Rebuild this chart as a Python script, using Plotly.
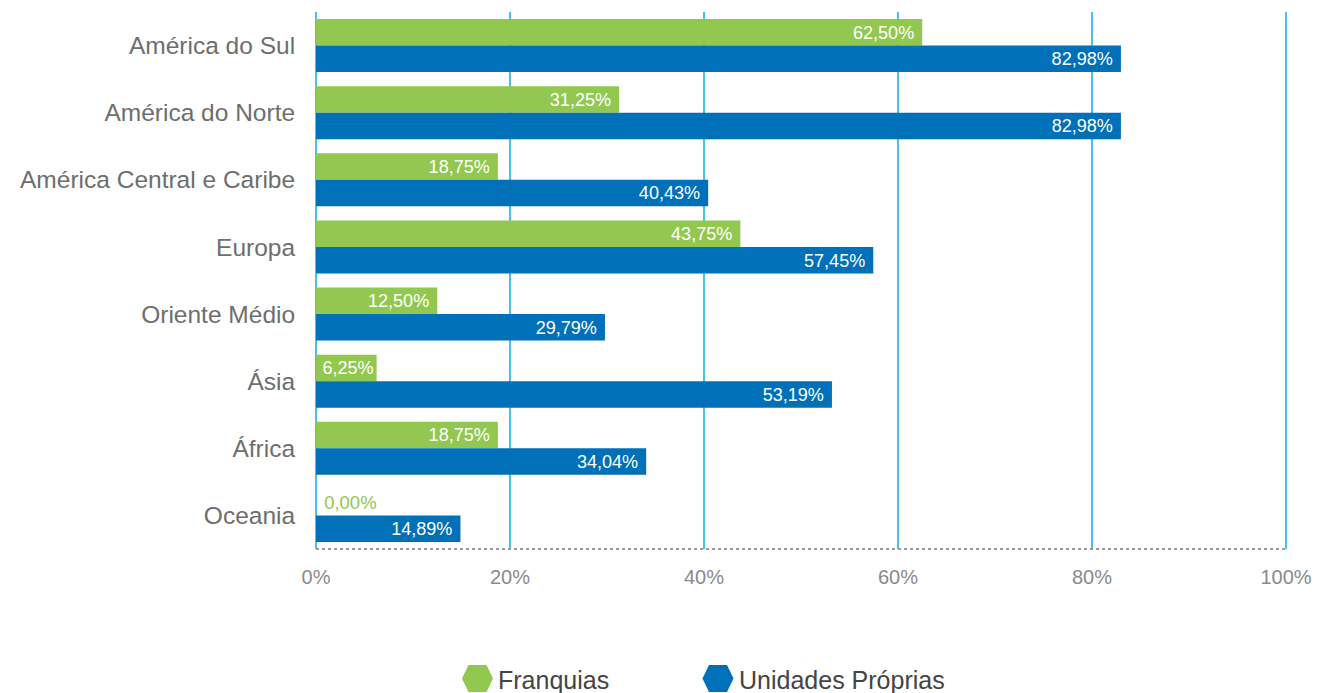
import plotly.graph_objects as go

# Regions (top to bottom) and share of each business model present there (%)
regioes = ["América do Sul", "América do Norte", "América Central e Caribe", "Europa",
           "Oriente Médio", "Ásia", "África", "Oceania"]
franquias = [62.50, 31.25, 18.75, 43.75, 12.50, 6.25, 18.75, 0.00]
unidades_proprias = [82.98, 82.98, 40.43, 57.45, 29.79, 53.19, 34.04, 14.89]
tick_vals = [0, 20, 40, 60, 80, 100]
tick_text = ["0%", "20%", "40%", "60%", "80%", "100%"]

VERDE = "#92c84f"
AZUL = "#0070b9"
GRADE = "#45c1ea"
FONTE = "Liberation Sans, Arial, sans-serif"

W, H = 1317, 693
ML, MR, MT, MB = 316, 31, 12, 144
PW, PH = W - ML - MR, H - MT - MB


def px(x):
    return (x - ML) / PW


def py(y):
    return (H - MB - y) / PH


def rotulo(v):
    s = f"{v:.2f}".replace(".", ",") + "%"
    if v == 0:
        return "\u00a0" + s
    return s + "\u00a0" if v >= 10 else s


def posicao(v):
    return "outside" if v == 0 else "inside"


fig = go.Figure()
for nome, valores, cor in [("Franquias", franquias, VERDE),
                           ("Unidades Próprias", unidades_proprias, AZUL)]:
    fig.add_trace(go.Bar(
        name=nome, y=regioes, x=valores, orientation="h",
        marker=dict(color=cor, line=dict(width=0)),
        text=[rotulo(v) for v in valores],
        textposition=[posicao(v) for v in valores],
        insidetextanchor="end",
        insidetextfont=dict(color="white", size=18.5, family=FONTE),
        outsidetextfont=dict(color=cor, size=18.5, family=FONTE),
        cliponaxis=False,
        showlegend=False,
    ))

fig.update_layout(
    width=W, height=H,
    margin=dict(l=ML, r=MR, t=MT, b=MB, autoexpand=False),
    paper_bgcolor="white", plot_bgcolor="white",
    barmode="group", bargap=0.21, bargroupgap=0,
    font=dict(family=FONTE),
    showlegend=False,
    xaxis=dict(range=[0, 100], tickvals=tick_vals, ticktext=tick_text,
               showgrid=True, gridcolor=GRADE, gridwidth=2,
               zeroline=False, showline=False, automargin=False,
               ticks="outside", ticklen=10, tickcolor="rgba(0,0,0,0)",
               tickfont=dict(size=20, color="#8a8a8a", family=FONTE)),
    yaxis=dict(autorange="reversed", showgrid=False, zeroline=False, showline=False,
               automargin=False,
               ticks="outside", ticklen=15, tickcolor="rgba(0,0,0,0)",
               tickfont=dict(size=24.5, color="#6e6e6e", family=FONTE)),
)

# gridlines at both ends of the value range (the axis grid skips the edges)
for xp in (0, 1):
    fig.add_shape(type="line", xref="paper", yref="paper", x0=xp, x1=xp, y0=0, y1=1,
                  line=dict(color=GRADE, width=2), layer="below")

# dotted baseline along the bottom of the plot area
fig.add_shape(type="line", xref="paper", yref="paper", x0=0, x1=1, y0=0, y1=0,
              line=dict(color="#9a9a9a", width=2, dash="dot"))


def hexagono(cx, cy, meia_l=15.5, meio_topo=9.0, meia_a=13.5):
    pts = [(cx - meia_l, cy), (cx - meio_topo, cy - meia_a), (cx + meio_topo, cy - meia_a),
           (cx + meia_l, cy), (cx + meio_topo, cy + meia_a), (cx - meio_topo, cy + meia_a)]
    return "M " + " L ".join(f"{px(x):.5f},{py(y):.5f}" for x, y in pts) + " Z"


# legend drawn with hexagonal swatches
for nome, cor, cx, tx in [("Franquias", VERDE, 477.5, 496),
                          ("Unidades Próprias", AZUL, 718, 737)]:
    fig.add_shape(type="path", xref="paper", yref="paper", path=hexagono(cx, 678.5),
                  fillcolor=cor, line=dict(width=0))
    fig.add_annotation(xref="paper", yref="paper", x=px(tx), y=py(680),
                       xanchor="left", yanchor="middle", showarrow=False,
                       text=nome, font=dict(size=25, color="#444444", family=FONTE))

fig.write_html("out.html")
